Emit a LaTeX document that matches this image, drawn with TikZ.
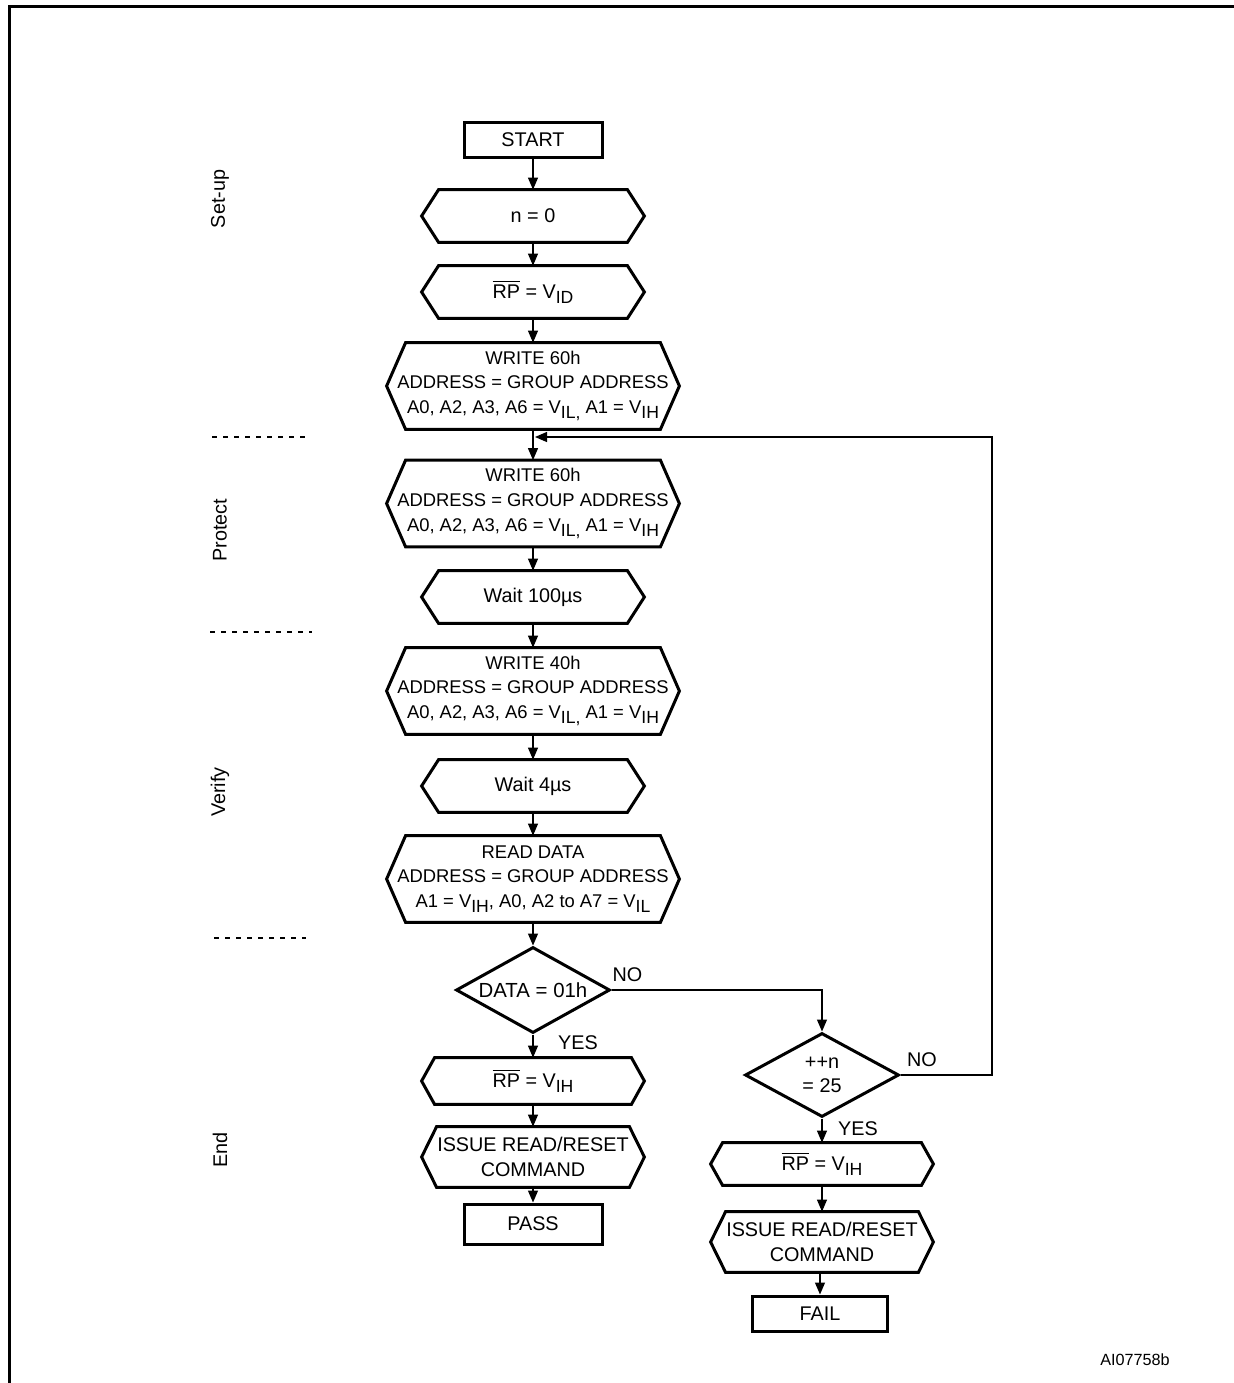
\documentclass[tikz,border=0pt]{standalone}
\usepackage{fontspec}
\setmainfont{Liberation Sans}
\usetikzlibrary{shapes.geometric,arrows.meta}
\newcommand\sbx[1]{\raisebox{-2.6pt}{\fontsize{8.8}{8.8}\selectfont #1}}
\newcommand\rpbar{$\overline{\mbox{RP}}$}
\newcommand\hexa[2]{\draw[outl] ([xshift=#2]#1.north west) -- ([xshift=-#2]#1.north east) -- (#1.east) -- ([xshift=-#2]#1.south east) -- ([xshift=#2]#1.south west) -- (#1.west) -- cycle;}
\begin{document}
\begin{tikzpicture}[x=0.5pt,y=-0.5pt,
  every node/.style={font=\fontsize{9.9}{12.3}\selectfont},
  hx/.style={inner sep=0pt, align=center, minimum width=111pt, minimum height=26pt},
  hxw/.style={hx, minimum width=146pt, minimum height=43pt, font=\fontsize{9.2}{12.3}\selectfont},
  outl/.style={line width=1.5pt, line join=miter},
  term/.style={draw, line width=1.5pt, minimum width=69pt, minimum height=17.5pt, inner sep=0pt},
  dec/.style={draw, diamond, line width=1.5pt, aspect=1.8, minimum width=77pt, minimum height=43pt, inner sep=0pt, align=center},
  conn/.style={line width=0.6pt, -{Triangle[length=6pt,width=5pt]}},
  sec/.style={rotate=90},
  sep/.style={line width=0.6pt, dash pattern=on 2.7pt off 2.8pt},
  frame/.style={line width=1.5pt}]
\useasboundingbox (0,0) rectangle (1234,1383);
% frame
\draw[frame] (9,1383) -- (9,6) -- (1234,6);
% section labels
\node[sec] (lset) at (220,199) {Set-up};
\node[sec] (lpro) at (220,530) {Protect};
\node[sec] (lver) at (220,792) {Verify};
\node[sec] (lend) at (220,1150) {End};
\coordinate (s1a) at (212,437); \coordinate (s1b) at (306,437);
\coordinate (s2a) at (210,632); \coordinate (s2b) at (312,632);
\coordinate (s3a) at (214,938); \coordinate (s3b) at (306,938);
\draw[sep] (s1a) -- (s1b);
\draw[sep] (s2a) -- (s2b);
\draw[sep] (s3a) -- (s3b);
% main column
\node[term] (start) at (533,139.5) {START};
\node[hx] (n0) at (533,216) {n = 0}; \hexa{n0}{8.5pt}
\node[hx] (rp1) at (533,292) {\rpbar{} = V\sbx{ID}}; \hexa{rp1}{8.5pt}
\node[hxw] (w1) at (533,386) {WRITE 60h\\ADDRESS = GROUP ADDRESS\\A0, A2, A3, A6 = V\sbx{IL,} A1 = V\sbx{IH}}; \hexa{w1}{9.5pt}
\node[hxw] (w2) at (533,503.5) {WRITE 60h\\ADDRESS = GROUP ADDRESS\\A0, A2, A3, A6 = V\sbx{IL,} A1 = V\sbx{IH}}; \hexa{w2}{9.5pt}
\node[hx] (wt1) at (533,597) {Wait 100µs}; \hexa{wt1}{8.5pt}
\node[hxw] (w3) at (533,691) {WRITE 40h\\ADDRESS = GROUP ADDRESS\\A0, A2, A3, A6 = V\sbx{IL,} A1 = V\sbx{IH}}; \hexa{w3}{9.5pt}
\node[hx] (wt2) at (533,786) {Wait 4µs}; \hexa{wt2}{8.5pt}
\node[hxw] (rd) at (533,879) {READ DATA\\ADDRESS = GROUP ADDRESS\\A1 = V\sbx{IH}, A0, A2 to A7 = V\sbx{IL}}; \hexa{rd}{9.5pt}
\node[dec, font=\fontsize{10.2}{12.3}\selectfont] (d1) at (533,990) {DATA = 01h};
\node[hx, minimum height=23pt] (rp2) at (533,1081) {\rpbar{} = V\sbx{IH}}; \hexa{rp2}{6.5pt}
\node[hx, minimum height=30pt] (is1) at (533,1157) {ISSUE READ/RESET\\COMMAND}; \hexa{is1}{7.5pt}
\node[term, minimum height=20pt] (pass) at (533,1224) {PASS};
% right column
\node[dec, minimum height=42pt] (inc) at (822,1075) {++n\\= 25};
\node[hx, minimum height=21pt] (rp3) at (822,1164) {\rpbar{} = V\sbx{IH}}; \hexa{rp3}{6pt}
\node[hx, minimum height=30pt] (is2) at (822,1242) {ISSUE READ/RESET\\COMMAND}; \hexa{is2}{7.5pt}
\node[term, minimum width=67.5pt] (fail) at (820,1313.5) {FAIL};
% labels
\node (no1) at (627.5,975) {NO};
\node (yes1) at (578,1043) {YES};
\node (no2) at (922,1060) {NO};
\node (yes2) at (858,1129) {YES};
\node[font=\fontsize{8.1}{10}\selectfont] (code) at (1135,1360) {AI07758b};
% connectors
\draw[conn] (start) -- (n0);
\draw[conn] (n0) -- (rp1);
\draw[conn] (rp1) -- (w1);
\draw[conn] (w1) -- (w2);
\draw[conn] (w2) -- (wt1);
\draw[conn] (wt1) -- (w3);
\draw[conn] (w3) -- (wt2);
\draw[conn] (wt2) -- (rd);
\draw[conn] (rd) -- (d1);
\draw[conn] (d1) -- (rp2);
\draw[conn] (rp2) -- (is1);
\draw[conn] (is1) -- (pass);
\draw[conn] (d1.east) -| (inc.north);
\coordinate (loopin) at (535,437);
\draw[conn] (inc.east) -- (992,1075) -- (992,437) -- (loopin);
\draw[conn] (inc) -- (rp3);
\draw[conn] (rp3) -- (is2);
\draw[conn] (is2.south -| fail.north) -- (fail);
\end{tikzpicture}
\end{document}
